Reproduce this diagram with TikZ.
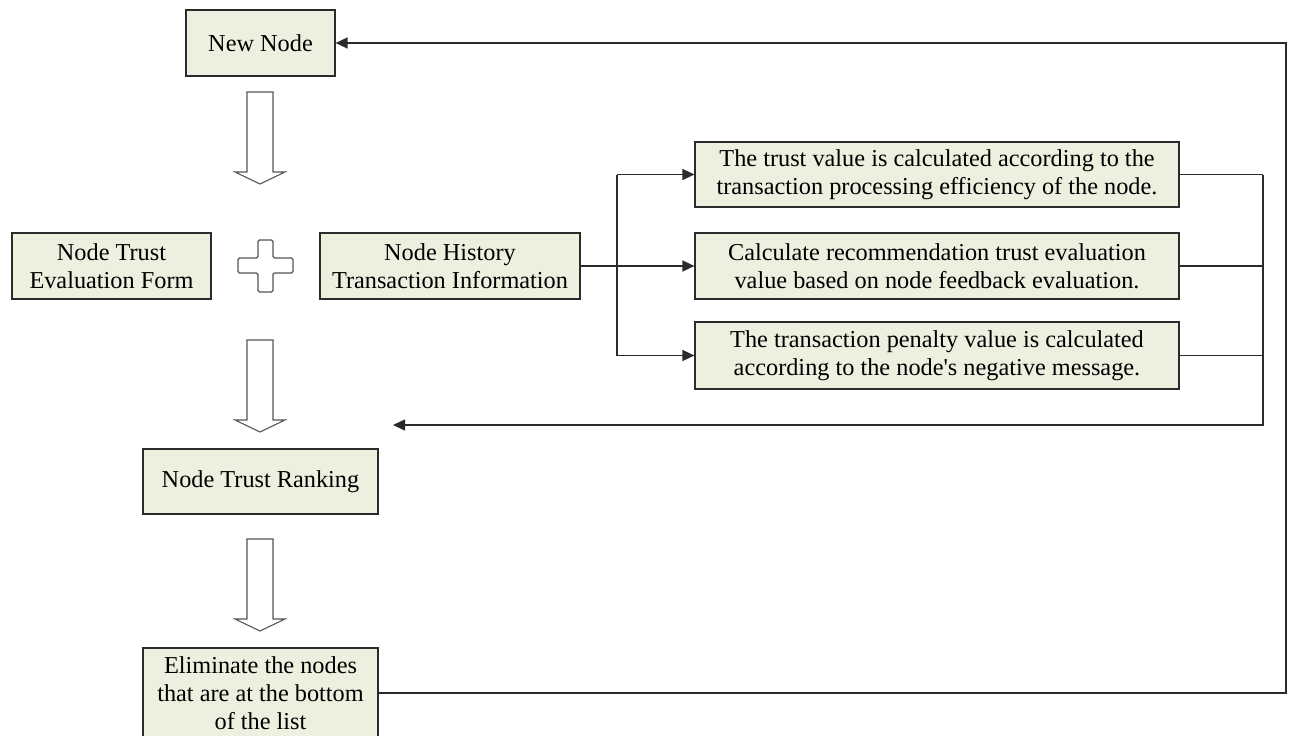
\documentclass[tikz,border=0pt]{standalone}
\usepackage{fontspec}
\setmainfont{Liberation Serif}[Ligatures=TeXOff]
\usetikzlibrary{arrows.meta,calc}
\definecolor{boxfill}{HTML}{EBF1DE}
\definecolor{edge}{HTML}{2B2B2B}
\tikzset{
  box/.style={draw=edge, line width=1.2pt, fill=boxfill, inner sep=0pt, align=center,
    font=\fontsize{24.3}{28}\selectfont, text=black},
  conn/.style={draw=edge, line width=1.4pt},
  arr/.style={conn, -{Triangle[length=12pt,width=11pt]}},
  blockarrow/.style={draw=edge!80, line width=1.1pt, fill=white, line join=miter},
}
\begin{document}
\begin{tikzpicture}[x=1pt,y=-1pt]
\useasboundingbox (0,0) rectangle (1291,736);
\fill[white] (0,0) rectangle (1291,736);

% nodes
\node[box, minimum width=149pt, minimum height=66pt] (new) at (260.5,43) {New Node};
\node[box, minimum width=199pt, minimum height=66pt] (eval) at (111.5,266) {Node Trust\\Evaluation Form};
\node[box, minimum width=260pt, minimum height=66pt] (hist) at (450,266) {Node History\\Transaction Information};
\node[box, minimum width=484pt, minimum height=65pt] (b1) at (937,174.5) {The trust value is calculated according to the\\transaction processing efficiency of the node.};
\node[box, minimum width=484pt, minimum height=66pt] (b2) at (937,266) {Calculate recommendation trust evaluation\\value based on node feedback evaluation.};
\node[box, minimum width=484pt, minimum height=67pt] (b3) at (937,355.5) {The transaction penalty value is calculated\\according to the node's negative message.};
\node[box, minimum width=235pt, minimum height=65pt] (rank) at (260.5,481.5) {Node Trust Ranking};
\node[box, minimum width=235pt, minimum height=90pt] (elim) at (260.5,693) {Eliminate the nodes\\that are at the bottom\\of the list};

% block arrows
\foreach \y in {92,340,539}{
  \draw[blockarrow] (247,\y) -- (273,\y) -- (273,\y+80) -- (285,\y+80) -- (260,\y+92)
    -- (235,\y+80) -- (247,\y+80) -- cycle;
}

% plus sign
\draw[blockarrow, rounded corners=1.5pt] (258,240) -- (273,240) -- (273,258) -- (293,258) -- (293,273)
  -- (273,273) -- (273,292) -- (258,292) -- (258,273) -- (238,273) -- (238,258) -- (258,258) -- cycle;

% branch out
\coordinate (bx) at (617,266);
\coordinate (bt) at (617,174.5);
\coordinate (bb) at (617,355.5);
\draw[conn] (hist.east) -- (bx);
\draw[conn] (bt) -- (bb);
\draw[arr] (bt) -- (b1.west);
\draw[arr] (bx) -- (b2.west);
\draw[arr] (bb) -- (b3.west);

% bus back
\coordinate (r1) at (1263,174.5);
\coordinate (r2) at (1263,266);
\coordinate (r3) at (1263,355.5);
\coordinate (rb) at (1263,425);
\coordinate (fb) at (393,425);
\draw[conn] (b1.east) -- (r1);
\draw[conn] (b2.east) -- (r2);
\draw[conn] (b3.east) -- (r3);
\draw[arr] (r1) -- (rb) -- (fb);

% outer loop
\coordinate (o1) at (1286,693);
\coordinate (o2) at (1286,43);
\draw[arr] (elim.east) -- (o1) -- (o2) -- (new.east);
\end{tikzpicture}
\end{document}
